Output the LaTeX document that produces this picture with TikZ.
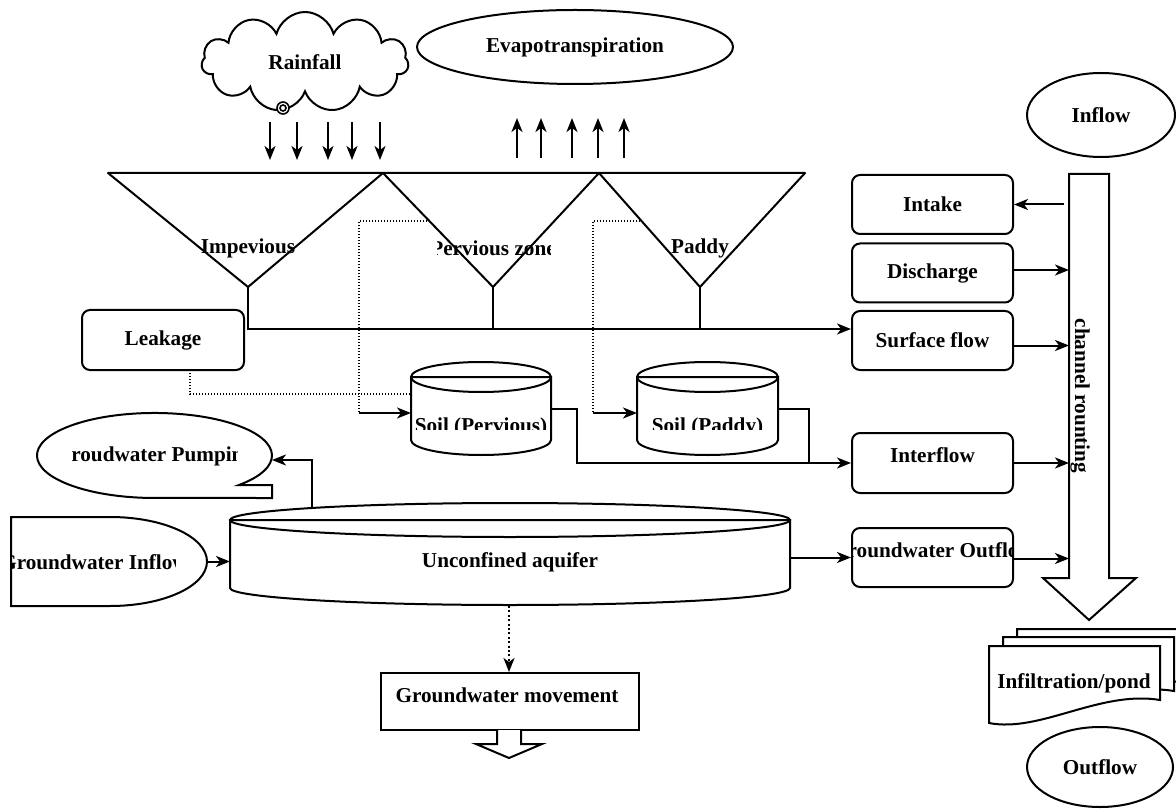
\documentclass[tikz,border=0pt]{standalone}
\usepackage{fontspec}
\setmainfont{Liberation Serif}
\usetikzlibrary{arrows.meta,shapes.symbols,shapes.geometric}
\newcommand\mycyl[5]{%
  \filldraw[fill=white,ln] (#1,#3+#5) -- (#1,#4-#5) arc[start angle=180,end angle=0,x radius={(#2-#1)/2},y radius=#5] -- (#2,#3+#5) -- cycle;
  \draw[ln] ({(#1+#2)/2},#3+#5) ellipse[x radius={(#2-#1)/2},y radius=#5];
}
\newcommand\mydoc[2]{%
  \filldraw[fill=white,ln] (#1,#2) -- (#1+171,#2) -- (#1+171,#2+54) .. controls (#1+111,#2+44) and (#1+51,#2+87) .. (#1,#2+77) -- cycle;
}
\begin{document}
\begin{tikzpicture}[x=0.5pt,y=-0.5pt,
  every node/.style={font=\fontsize{10.6}{12}\selectfont\bfseries},
  ln/.style={line width=1pt},
  arr/.style={line width=1pt,-{Stealth[length=7pt,width=5.5pt,inset=2pt]}},
  dotl/.style={line width=0.8pt,dash pattern=on 0.6pt off 0.9pt},
  rbox/.style={draw,line width=1pt,rounded corners=4pt,minimum width=80.5pt,minimum height=29.5pt,inner sep=0pt},
  ghost/.style={inner sep=0pt,outer sep=0pt},
]
\useasboundingbox (0,0) rectangle (1176,812);

% ---------- top: rainfall and evapotranspiration
\node[draw,ln,cloud,cloud puffs=11,aspect=2.1,minimum width=103.5pt,minimum height=50pt,inner sep=0pt] (rain) at (305,62) {Rainfall};
\filldraw[fill=white,line width=0.8pt] (283,108) circle[radius=6];
\draw[line width=0.8pt] (283,108) circle[radius=3];
\node[draw,ln,ellipse,minimum width=158pt,minimum height=37pt,inner sep=0pt] (evap) at (575,47) {Evapotranspiration};

\foreach \x [count=\i] in {270,297,328,352,380}{
  \coordinate (rt\i) at (\x,122); \coordinate (rb\i) at (\x,160);
  \draw[arr] (rt\i) -- (rb\i);}
\foreach \x [count=\i] in {517,541,572,598,624}{
  \coordinate (et\i) at (\x,118); \coordinate (eb\i) at (\x,158);
  \draw[arr] (eb\i) -- (et\i);}

% ---------- triangles
\coordinate (t0) at (108,173); \coordinate (t1) at (383,173);
\coordinate (t2) at (599,173); \coordinate (t3) at (805,173);
\coordinate (a1) at (248,287); \coordinate (a2) at (493,287); \coordinate (a3) at (700,287);
\draw[ln,line join=round] (t0) -- (t1) -- (a1) -- cycle;
\draw[ln,line join=round] (t1) -- (t2) -- (a2) -- cycle;
\draw[ln,line join=round] (t2) -- (t3) -- (a3) -- cycle;
\node (limp) at (248,248) {Impevious};
\begin{scope}
  \clip (437,225) rectangle (550,272);
  \node (lperv) at (493,248) {Pervious zone};
\end{scope}
\node (lpad) at (700,248) {Paddy};

% ---------- right column
\node[rbox] (intake) at (932.5,204.5) {Intake};
\node[rbox] (disch) at (932.5,273) {Discharge};
\node[rbox] (surf) at (932.5,340.5) {Surface flow};
\node[rbox,minimum height=30pt] (inter) at (932.5,463) {};
\node (linter) at (932.5,455) {Interflow};
\node[rbox] (gwo) at (932.5,557.5) {};
\begin{scope}
  \clip (852,530) rectangle (1012,580);
  \node (lgwo) at (932.5,550) {Groundwater Outflow};
\end{scope}
\node[draw,ln,ellipse,minimum width=74pt,minimum height=42pt,inner sep=0pt] (inflow) at (1101,115) {Inflow};
\node[draw,ln,ellipse,minimum width=73pt,minimum height=40pt,inner sep=0pt] (outflow) at (1100,767) {Outflow};

% channel arrow
\filldraw[fill=white,ln,line join=miter] (1069,174) -- (1109,174) -- (1109,578) -- (1136,578) -- (1089,620) -- (1043,578) -- (1069,578) -- cycle;
\node[rotate=-90] (lchan) at (1080,396) {channel rounting};
\coordinate (chL) at (1069,300);
\coordinate (chI) at (1064,300);
\draw[arr] (intake.east -| chI) -- (intake.east);
\draw[arr] ([yshift=1.5pt]disch.east) -- ([yshift=1.5pt]disch.east -| chL);
\draw[arr] ([yshift=-2.5pt]surf.east) -- ([yshift=-2.5pt]surf.east -| chL);
\draw[arr] (inter.east) -- (inter.east -| chL);
\draw[arr] ([yshift=-0.5pt]gwo.east) -- ([yshift=-0.5pt]gwo.east -| chL);

% infiltration documents
\mydoc{1017}{629}
\mydoc{1003}{637}
\mydoc{989}{646}
\node (infil) at (1074,683) {Infiltration/pond};

% ---------- surface line
\coordinate (j1) at (248,329);
\draw[arr] (a1) -- (j1) -- (j1 -| surf.west);
\draw[ln] (a2) -- (a2 |- j1);
\draw[ln] (a3) -- (a3 |- j1);

% ---------- leakage
\node[rbox,minimum width=81pt,minimum height=30pt] (leak) at (163,340) {Leakage};

% ---------- soils
\node[ghost,minimum width=70pt,minimum height=46.5pt] (soilP) at (481,408.5) {};
\node[ghost,minimum width=70.5pt,minimum height=46.5pt] (soilD) at (707.5,408.5) {};
\mycyl{411}{551}{362}{455}{15}
\mycyl{637}{778}{362}{455}{15}
\begin{scope}
  \clip (411,395) rectangle (551,429.5);
  \node[anchor=base] (lsoilP) at (481,432) {Soil (Pervious)};
\end{scope}
\begin{scope}
  \clip (637,395) rectangle (778,429.5);
  \node[anchor=base] (lsoilD) at (707.5,432) {Soil (Paddy)};
\end{scope}

% dotted paths
\coordinate (d1) at (430,221); \coordinate (d2) at (359,221); \coordinate (d3) at (359,413);
\draw[dotl] (d1) -- (d2) -- (d3);
\draw[arr] (d3) -- (d3 -| soilP.west);
\coordinate (d4) at (640,221); \coordinate (d5) at (593,221); \coordinate (d6) at (593,413);
\draw[dotl] (d4) -- (d5) -- (d6);
\draw[arr] (d6) -- (d6 -| soilD.west);
\coordinate (lk) at (190,370); \coordinate (lk2) at (190,394);
\draw[dotl] (lk) -- (lk2) -- (lk2 -| soilP.west);

% soil outputs
\coordinate (sp1) at (577,408.5);
\draw[arr] (soilP.east) -- (sp1) |- (inter.west);
\coordinate (sd1) at (809,408.5);
\draw[ln] (soilD.east) -- (sd1) -- (sd1 |- inter.west);

% ---------- aquifer
\node[ghost,minimum width=280pt,minimum height=51pt] (aq) at (510,554) {};
\mycyl{230}{790}{503}{605}{17}
\node (laq) at (510,562) {Unconfined aquifer};
\draw[arr] (gwo.west -| aq.east) -- (gwo.west);

% groundwater pumping
\filldraw[fill=white,ln] (272,498) -- (272,485) -- (239,485) arc[start angle=44,end angle=-270,x radius=117.5,y radius=42.5] -- cycle;
\begin{scope}
  \clip (72,430) rectangle (237,480);
  \node (lpump) at (154.5,456) {Groudwater Pumping};
\end{scope}
\coordinate (pmp) at (272,460); \coordinate (aqt) at (312,508);
\draw[arr] (aqt) |- (pmp);

% groundwater inflow
\filldraw[fill=white,ln] (11,517) -- (110,517) arc[start angle=-90,end angle=90,x radius=97,y radius=44.5] -- (11,606) -- cycle;
\begin{scope}
  \clip (12,540) rectangle (175,585);
  \node (lgin) at (94,562) {Groundwater Inflow};
\end{scope}
\coordinate (gin) at (207,561.5);
\draw[arr] (gin) -- (gin -| aq.west);

% groundwater movement
\node[draw,ln,minimum width=129pt,minimum height=28.5pt,inner sep=0pt] (gwm) at (510,701.5) {};
\node (lgwm) at (507,695) {Groundwater movement};
\coordinate (aqb) at (509,606);
\draw[line width=1pt,dash pattern=on 1pt off 1.2pt,-{Stealth[length=7pt,width=5.5pt,inset=2pt]}] (aqb) -- (aqb |- gwm.north);
\filldraw[fill=white,ln] (497,730) -- (497,744) -- (476,744) -- (509,758) -- (542,744) -- (521,744) -- (521,730);
\end{tikzpicture}
\end{document}
